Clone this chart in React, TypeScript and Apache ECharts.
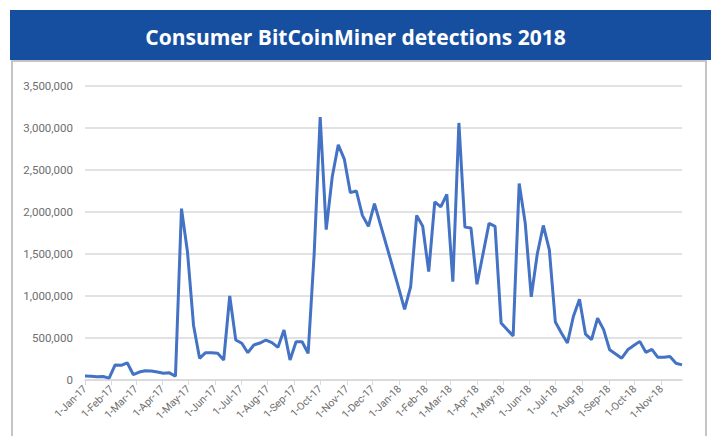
import React, { useEffect, useRef } from "react";
import * as echarts from "echarts";

const titleText = "Consumer BitCoinMiner detections 2018";
const startYear = 2017;
const startMonth = 0;
const startDay = 1;
const stepDays = 7;

// weekly detections, Jan 1 2017 .. Dec 31 2017
const values2017 = [
  48000, 45000, 38000, 42000, 22000, 180000, 175000, 205000, 65000, 95000,
  110000, 108000, 95000, 80000, 85000, 45000, 2040000, 1520000, 650000, 258000,
  325000, 325000, 318000, 238000, 1000000, 476000, 437000, 325000, 417000, 440000,
  476000, 445000, 389000, 595000, 238000, 456000, 456000, 318000, 1500000, 3130000,
  1790000, 2420000, 2800000, 2630000, 2230000, 2250000, 1960000, 1830000, 2100000, 1850000,
  1600000, 1350000, 1100000,
];
// weekly detections, Jan 7 2018 .. Nov 25 2018
const values2018 = [
  840000, 1110000, 1960000, 1830000, 1290000, 2120000, 2060000, 2210000, 1170000, 3060000,
  1820000, 1810000, 1140000, 1500000, 1865000, 1830000, 680000, 600000, 525000, 2340000,
  1870000, 990000, 1500000, 1840000, 1550000, 690000, 560000, 440000, 760000, 960000,
  545000, 480000, 735000, 600000, 360000, 310000, 260000, 360000, 410000, 460000,
  330000, 365000, 270000, 270000, 280000, 200000, 180000,
];
const yTicks = { min: 0, max: 3500000, interval: 500000 };
const monthNames = ["Jan", "Feb", "Mar", "Apr", "May", "Jun", "Jul", "Aug", "Sep", "Oct", "Nov", "Dec"];

export default function App() {
  const ref = useRef<HTMLDivElement>(null);
  useEffect(() => {
    if (!ref.current) return;
    const chart = echarts.init(ref.current, null, { renderer: "svg" });
    const all = [...values2017, ...values2018];
    const data = all.map((v, i) => [
      new Date(startYear, startMonth, startDay + i * stepDays).getTime(),
      v,
    ]);
    const minT = data[0][0];
    const maxT = data[data.length - 1][0];
    const DAY = 86400000;
    chart.setOption({
      animation: false,
      backgroundColor: "#ffffff",
      title: {
        text: titleText,
        left: "center",
        top: 21,
        textStyle: {
          color: "#ffffff",
          fontFamily: "Open Sans",
          fontWeight: "bold",
          fontSize: 21,
        },
      },
      graphic: [
        {
          type: "rect",
          z: -10,
          shape: { x: 10, y: 10, width: 701, height: 50 },
          style: { fill: "#174fa0" },
        },
        {
          type: "rect",
          z: -10,
          shape: { x: 12, y: 61, width: 694, height: 380 },
          style: { fill: "none", stroke: "#c4c4c4", lineWidth: 2 },
        },
      ],
      grid: { left: 85, right: 29, top: 86, bottom: 56, containLabel: false },
      xAxis: {
        type: "time",
        min: minT,
        max: maxT,
        splitNumber: 23,
        minInterval: 28 * DAY,
        maxInterval: 31 * DAY,
        axisLine: { show: true, lineStyle: { color: "#d9d9d9", width: 1.5 } },
        axisTick: { show: true, length: 5, lineStyle: { color: "#d9d9d9" } },
        splitLine: { show: false },
        axisLabel: {
          rotate: 45,
          interval: 0,
          color: "#6e6e6e",
          fontFamily: "Roboto",
          fontSize: 10.5,
          margin: 7,
          hideOverlap: false,
          formatter: (value: number) => {
            const d = new Date(value);
            return `${d.getDate()}-${monthNames[d.getMonth()]}-${String(d.getFullYear()).slice(2)}`;
          },
        },
      },
      yAxis: {
        type: "value",
        min: yTicks.min,
        max: yTicks.max,
        interval: yTicks.interval,
        axisLine: { show: false },
        axisTick: { show: false },
        splitLine: { lineStyle: { color: "#d9d9d9", width: 1.5 } },
        axisLabel: {
          color: "#6e6e6e",
          fontFamily: "Roboto",
          fontSize: 11.5,
          margin: 12,
          formatter: (v: number) => v.toLocaleString("en-US"),
        },
      },
      series: [
        {
          type: "line",
          data,
          showSymbol: false,
          lineStyle: { color: "#4472c4", width: 3 },
          itemStyle: { color: "#4472c4" },
        },
      ],
    });
    return () => chart.dispose();
  }, []);
  return (
    <div
      ref={ref}
      style={{ position: "fixed", left: 0, top: 0, width: 711, height: 436 }}
    />
  );
}
